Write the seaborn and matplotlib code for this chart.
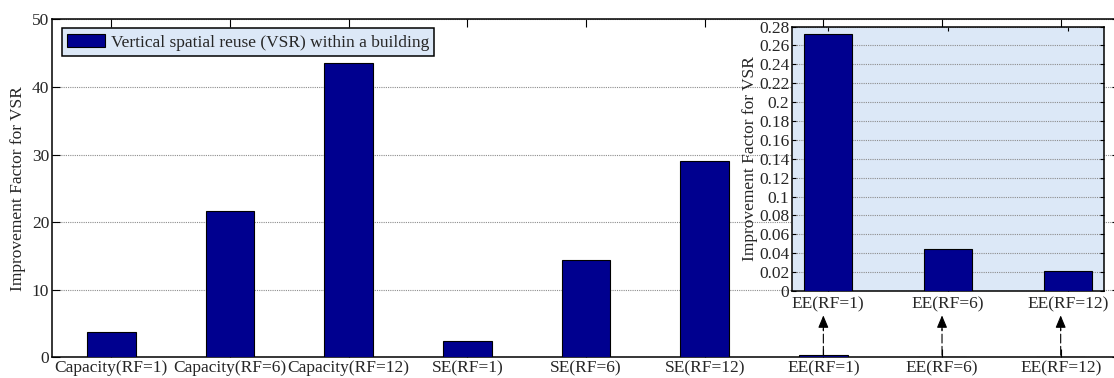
import matplotlib
matplotlib.use("Agg")
import matplotlib.pyplot as plt
import seaborn as sns
import pandas as pd
from matplotlib.patches import Patch
from matplotlib.ticker import FormatStrFormatter

# Improvement factors of vertical spatial reuse (VSR)
categories = ["Capacity(RF=1)", "Capacity(RF=6)", "Capacity(RF=12)",
              "SE(RF=1)", "SE(RF=6)", "SE(RF=12)",
              "EE(RF=1)", "EE(RF=6)", "EE(RF=12)"]
values = [3.7, 21.7, 43.6, 2.45, 14.4, 29.1, 0.272, 0.0444, 0.021]

ee_categories = ["EE(RF=1)", "EE(RF=6)", "EE(RF=12)"]
ee_values = [0.272, 0.0444, 0.021]

main_yticks = [0, 10, 20, 30, 40, 50]
inset_yticks = [0, 0.02, 0.04, 0.06, 0.08, 0.1, 0.12, 0.14, 0.16, 0.18,
                0.2, 0.22, 0.24, 0.26, 0.28]

legend_label = "Vertical spatial reuse (VSR) within a building"
ylabel = "Improvement Factor for VSR"

BAR = "#00008f"
PANEL = "#dce8f7"
GRID = "0.55"
FS = 12.5

sns.set_style("ticks")
plt.rcParams["font.family"] = ["Liberation Serif", "DejaVu Serif"]
plt.rcParams["font.size"] = FS

df = pd.DataFrame({"metric": categories, "factor": values})
df_ee = pd.DataFrame({"metric": ee_categories, "factor": ee_values})

fig = plt.figure(figsize=(11.14, 3.78), dpi=100)
ax = fig.add_axes([0.0467, 0.0548, 0.9587, 0.8941])

sns.barplot(data=df, x="metric", y="factor", ax=ax, color=BAR, saturation=1,
            width=0.41, edgecolor="black", linewidth=0.8, zorder=3)
ax.set_xlim(-0.5, 8.5)
ax.set_ylim(0, 50)
ax.set_yticks(main_yticks)
ax.set_xlabel("")
ax.set_ylabel(ylabel, fontsize=FS, labelpad=4)
ax.tick_params(direction="in", top=True, right=True, length=6, width=0.8,
               labelsize=FS, pad=2, color="black")
ax.yaxis.grid(True, linestyle=(0, (1, 1)), color=GRID, linewidth=0.8)
ax.set_axisbelow(True)
for s in ax.spines.values():
    s.set_linewidth(1.1)
    s.set_color("black")

leg = ax.legend(handles=[Patch(facecolor=BAR, edgecolor="black", linewidth=0.8,
                               label=legend_label)],
                loc="upper left", bbox_to_anchor=(0.0094, 0.973),
                borderaxespad=0, fontsize=FS, fancybox=False, framealpha=1,
                handlelength=2.2, handleheight=0.85, handletextpad=0.3,
                borderpad=0.3)
leg.get_frame().set_facecolor(PANEL)
leg.get_frame().set_edgecolor("black")
leg.get_frame().set_linewidth(1.1)

# Dashed arrows from the tiny EE bars up to the zoomed panel
for i in range(6, 9):
    ax.annotate("", xy=(i, 4.2), xytext=(i, 0.3),
                arrowprops=dict(arrowstyle="-", linestyle=(0, (8, 3)),
                                color="black", lw=0.8, shrinkA=0, shrinkB=0))
    ax.annotate("", xy=(i, 6.2), xytext=(i, 4.0),
                arrowprops=dict(arrowstyle="-|>,head_length=0.6,head_width=0.25",
                                color="black", lw=0.8, shrinkA=0, shrinkB=0))

# Zoomed panel for energy efficiency
axin = fig.add_axes([0.711, 0.2302, 0.2801, 0.6995])
axin.set_facecolor(PANEL)
sns.barplot(data=df_ee, x="metric", y="factor", ax=axin, color=BAR,
            saturation=1, width=0.405, edgecolor="black", linewidth=0.8,
            zorder=3)
axin.set_xlim(-0.3, 2.3)
axin.set_ylim(0, 0.28)
axin.set_yticks(inset_yticks)
axin.yaxis.set_major_formatter(FormatStrFormatter("%g"))
axin.set_xlabel("")
axin.set_ylabel(ylabel, fontsize=FS, labelpad=1)
axin.tick_params(direction="in", top=True, right=True, length=3, width=0.8,
                 labelsize=FS, pad=2, color="black")
axin.tick_params(axis="x", pad=4)
axin.yaxis.grid(True, linestyle=(0, (1, 1)), color=GRID, linewidth=0.8)
axin.set_axisbelow(True)
for s in axin.spines.values():
    s.set_linewidth(1.1)
    s.set_color("black")

fig.savefig("out.png", dpi=100, facecolor="white")
